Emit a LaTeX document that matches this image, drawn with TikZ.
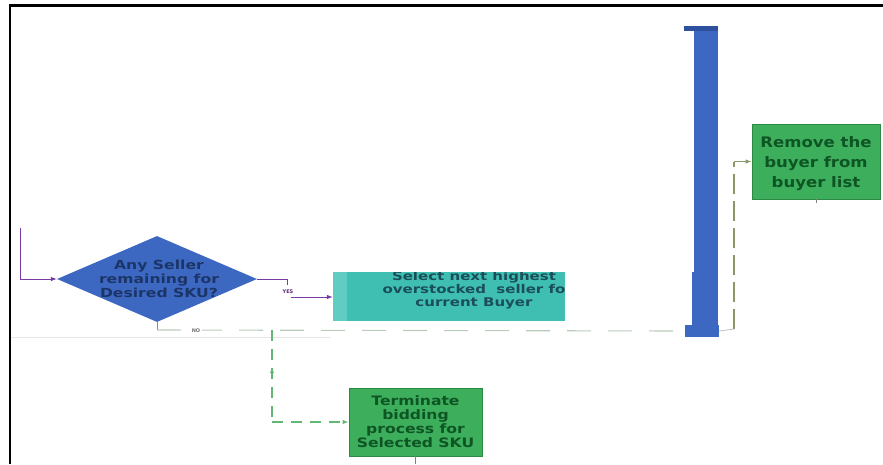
\documentclass[tikz,border=0pt]{standalone}
\usepackage{fontspec}
\setmainfont{DejaVu Sans}
\newfontfamily\widesans[FakeStretch=1.25]{DejaVu Sans}
\newfontfamily\termsans[FakeStretch=1.2]{DejaVu Sans}
\newfontfamily\midsans[FakeStretch=1.14]{DejaVu Sans}
\usetikzlibrary{shapes.geometric,arrows.meta,decorations.markings}

\definecolor{blueshape}{HTML}{3D68C2}
\definecolor{bluedark}{HTML}{2E519E}
\definecolor{bluetext}{HTML}{1C3568}
\definecolor{tealfill}{HTML}{3FBFB2}
\definecolor{teallight}{HTML}{5FCDC2}
\definecolor{tealtext}{HTML}{1B4E58}
\definecolor{greenfill}{HTML}{3DAE5C}
\definecolor{greenedge}{HTML}{2C8A45}
\definecolor{greentext}{HTML}{0E5524}
\definecolor{flowpurple}{HTML}{7A3AA6}
\definecolor{dashgrey}{HTML}{B9CCB9}
\definecolor{dashgreen}{HTML}{62B872}
\definecolor{dasholive}{HTML}{8A9868}

\tikzset{
  frameline/.style={line width=2.6pt, black},
  decision/.style={diamond, fill=blueshape, draw=none, inner sep=0pt,
    minimum width=200pt, minimum height=86pt},
  decisiontext/.style={text=bluetext, align=center, inner sep=0pt,
    font=\widesans\fontsize{12.5}{14}\selectfont\bfseries},
  tealbox/.style={rectangle, fill=tealfill, draw=none, inner sep=0pt,
    minimum width=232pt, minimum height=49pt,
    path picture={\fill[teallight] (path picture bounding box.north west)
      rectangle ([xshift=14pt]path picture bounding box.south west);}},
  tealtextstyle/.style={text=tealtext, align=center, inner sep=0pt,
    font=\widesans\fontsize{12}{13}\selectfont\bfseries},
  greenbox/.style={rectangle, fill=greenfill, draw=greenedge, line width=0.8pt,
    inner sep=0pt, align=center, text=greentext},
  boxtext/.style={inner sep=0pt, align=center, text=greentext},
  purpleflow/.style={flowpurple, line width=0.8pt},
  arrowtip/.style={-{Latex[length=6pt,width=4.5pt]}},
  smalllabel/.style={inner sep=0pt, font=\fontsize{5}{5}\selectfont\bfseries},
  nodash/.style={dashgrey, line width=1.1pt, dash pattern=on 24pt off 17pt},
  termdash/.style={dashgreen, line width=1.1pt, dash pattern=on 11pt off 8pt},
  removedash/.style={dasholive, line width=1.1pt, dash pattern=on 20pt off 7pt},
}

\begin{document}
\begin{tikzpicture}[x=1pt,y=-1pt]
\useasboundingbox (0,0) rectangle (883,464);

% outer frame: top and left edges only
\draw[frameline] (10,5.5) -- (883,5.5);
\draw[frameline] (10,4.2) -- (10,464);

% faint ruling line on the left
\draw[black!10, line width=0.6pt] (11,337) -- (330,337);

% nodes
\node[decision] (dia) at (157,279) {};
\node[decisiontext] (diatext) at (159,279)
  {Any Seller\\remaining for\\Desired SKU?};

\node[tealbox] (select) at (449,296.5) {};
\begin{scope}
  \clip (333,272) rectangle (565,321);
  \node[tealtextstyle] (selecttext) at (474,290)
    {Select next highest\\overstocked\ \ seller fo\\current Buyer};
\end{scope}

\node[greenbox, minimum width=133pt, minimum height=68pt,
  font=\termsans\fontsize{13}{14}\selectfont\bfseries] (term) at (415.5,422)
  {Terminate\\bidding\\process for\\Selected SKU};

\node[greenbox, minimum width=128pt, minimum height=75pt] (remove) at (816,161.5) {};
\node[boxtext, font=\midsans\fontsize{14.5}{20}\selectfont\bfseries]
  (removetext) at (816,164) {Remove the\\buyer from\\buyer list};

% tall blue bar
\node[rectangle, fill=blueshape, inner sep=0pt, minimum width=24pt,
  minimum height=311pt] (bar) at (706,181.5) {};
\fill[blueshape] (692,272) rectangle (718,337);
\fill[bluedark] (684,26) rectangle (718,30.5);
\node[rectangle, fill=blueshape, inner sep=0pt, minimum width=34pt,
  minimum height=12pt] (barfoot) at (702,331) {};

% incoming line on the left
\coordinate (inTop) at (20,228);
\draw[purpleflow, arrowtip] (inTop) |- (dia.west);

% YES branch
\coordinate (yesA) at (287,285);
\coordinate (yesB) at (291,297);
\draw[purpleflow] (dia.east) -| (yesA);
\node[smalllabel, text=flowpurple!70!black] (yes) at (288,291.5) {YES};
\draw[purpleflow, arrowtip] (yesB) -- (yesB -| select.west);

% NO branch
\coordinate (noA) at (157,330);
\coordinate (split) at (272,330);
\coordinate (termTurn) at (272,422);
\draw[black!45, line width=0.8pt] (dia.south) -- (noA);
\draw[nodash] (noA) -- (barfoot.west);
\node[smalllabel, text=black!55, fill=white, inner xsep=2pt] (no) at (196,331) {NO};

% down to the terminate box
\draw[termdash, postaction={decorate}, decoration={markings,
  mark=at position 0.47 with {\arrow{Latex[length=6pt,width=4.5pt,reversed]}}}]
  (split) -- (termTurn);
\draw[termdash, arrowtip] (termTurn) -- (term.west);
\draw[black!50, line width=0.8pt] (term.south) -- ++(0,8);

% from the bar to the remove box
\coordinate (barExit) at (734,329);
\coordinate (removeTurn) at (734,161.5);
\draw[black!25, line width=0.8pt] (barfoot.east) -- (barExit);
\draw[removedash] (barExit) -- (removeTurn);
\draw[dasholive, line width=1pt, arrowtip] (removeTurn) -- (remove.west);
\draw[black!50, line width=0.8pt] (remove.south) -- ++(0,4);
\end{tikzpicture}
\end{document}
